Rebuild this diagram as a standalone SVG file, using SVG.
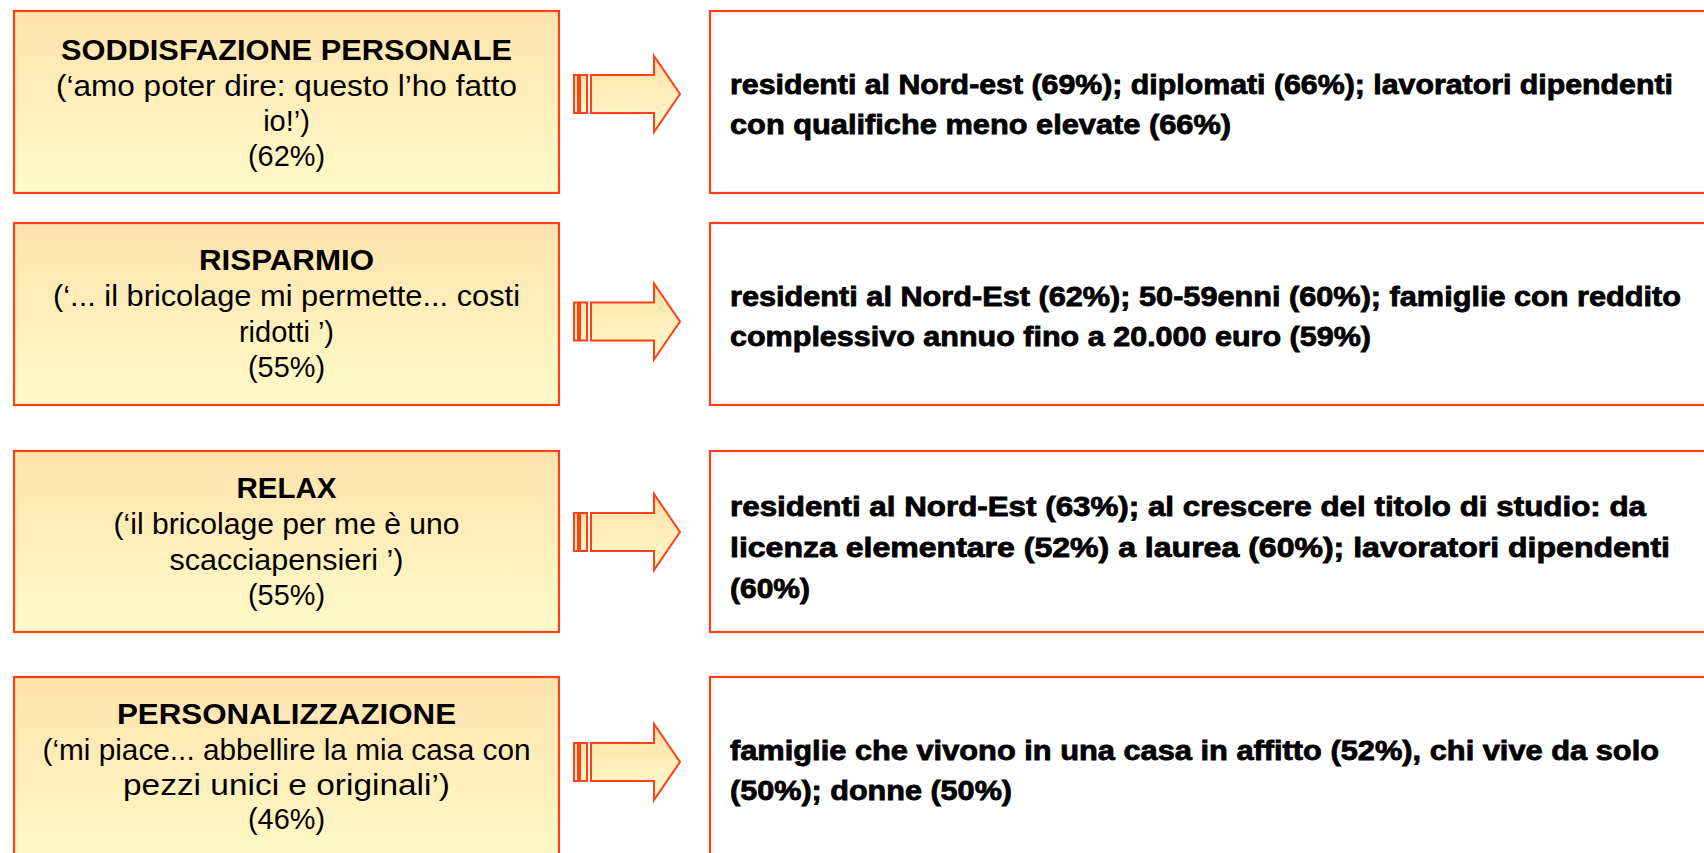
<svg xmlns="http://www.w3.org/2000/svg" width="1704" height="853" viewBox="0 0 1704 853">
<defs>
<linearGradient id="gbox" x1="0" y1="0" x2="0" y2="1">
<stop offset="0" stop-color="#FFE2AE"/>
<stop offset="1" stop-color="#FFFBC9"/>
</linearGradient>
<linearGradient id="garr" x1="0" y1="0" x2="0" y2="1">
<stop offset="0" stop-color="#FFE0AA"/>
<stop offset="1" stop-color="#FFFBCB"/>
</linearGradient>
<style>
.lb{fill:url(#gbox);stroke:#FF4015;stroke-width:2.2}
.rb{fill:#FFFFFF;stroke:#FF4015;stroke-width:2.2}
.ar{fill:url(#garr);stroke:#FF4015;stroke-width:2}
.t{font-family:"Liberation Sans",Arial,sans-serif;font-size:29px;fill:#000;text-anchor:middle}
.tb{font-weight:bold}
.r{font-family:"Liberation Sans",Arial,sans-serif;font-size:27px;font-weight:bold;fill:#000;stroke:#000;stroke-width:0.8}
</style>
</defs>
<rect width="1704" height="853" fill="#FFFFFF"/>

<g id="node-soddisfazione">
<rect class="lb" x="14" y="11" width="545" height="182"/>
<text class="t tb" x="286.5" y="60" textLength="451" lengthAdjust="spacingAndGlyphs">SODDISFAZIONE PERSONALE</text>
<text class="t" x="286.5" y="96" textLength="461" lengthAdjust="spacingAndGlyphs">(‘amo poter dire: questo l’ho fatto</text>
<text class="t" x="286.5" y="131">io!’)</text>
<text class="t" x="286.5" y="166" textLength="77" lengthAdjust="spacingAndGlyphs">(62%)</text>
</g>
<g id="node-soddisfazione-target">
<rect class="rb" x="710" y="11" width="1100" height="182"/>
<text class="r" x="730" y="94" textLength="943" lengthAdjust="spacingAndGlyphs">residenti al Nord-est (69%); diplomati (66%); lavoratori dipendenti</text>
<text class="r" x="730" y="134" textLength="501" lengthAdjust="spacingAndGlyphs">con qualifiche meno elevate (66%)</text>
</g>

<g id="node-risparmio">
<rect class="lb" x="14" y="223" width="545" height="182"/>
<text class="t tb" x="286.5" y="270" textLength="175" lengthAdjust="spacingAndGlyphs">RISPARMIO</text>
<text class="t" x="286.5" y="306" textLength="467" lengthAdjust="spacingAndGlyphs">(‘... il bricolage mi permette... costi</text>
<text class="t" x="286.5" y="342">ridotti ’)</text>
<text class="t" x="286.5" y="377" textLength="77" lengthAdjust="spacingAndGlyphs">(55%)</text>
</g>
<g id="node-risparmio-target">
<rect class="rb" x="710" y="223" width="1100" height="182"/>
<text class="r" x="730" y="306" textLength="951" lengthAdjust="spacingAndGlyphs">residenti al Nord-Est (62%); 50-59enni (60%); famiglie con reddito</text>
<text class="r" x="730" y="346" textLength="641" lengthAdjust="spacingAndGlyphs">complessivo annuo fino a 20.000 euro (59%)</text>
</g>

<g id="node-relax">
<rect class="lb" x="14" y="451" width="545" height="181"/>
<text class="t tb" x="286.5" y="498" textLength="100" lengthAdjust="spacingAndGlyphs">RELAX</text>
<text class="t" x="286.5" y="534" textLength="346" lengthAdjust="spacingAndGlyphs">(‘il bricolage per me è uno</text>
<text class="t" x="286.5" y="570" textLength="234" lengthAdjust="spacingAndGlyphs">scacciapensieri ’)</text>
<text class="t" x="286.5" y="605" textLength="77" lengthAdjust="spacingAndGlyphs">(55%)</text>
</g>
<g id="node-relax-target">
<rect class="rb" x="710" y="451" width="1100" height="181"/>
<text class="r" x="730" y="516" textLength="916" lengthAdjust="spacingAndGlyphs">residenti al Nord-Est (63%); al crescere del titolo di studio: da</text>
<text class="r" x="730" y="557" textLength="940" lengthAdjust="spacingAndGlyphs">licenza elementare (52%) a laurea (60%); lavoratori dipendenti</text>
<text class="r" x="730" y="598" textLength="80" lengthAdjust="spacingAndGlyphs">(60%)</text>
</g>

<g id="node-personalizzazione">
<rect class="lb" x="14" y="677" width="545" height="200"/>
<text class="t tb" x="286.5" y="724" textLength="339" lengthAdjust="spacingAndGlyphs">PERSONALIZZAZIONE</text>
<text class="t" x="286.5" y="760" textLength="488" lengthAdjust="spacingAndGlyphs">(‘mi piace... abbellire la mia casa con</text>
<text class="t" x="286.5" y="795" textLength="327" lengthAdjust="spacingAndGlyphs">pezzi unici e originali’)</text>
<text class="t" x="286.5" y="829" textLength="77" lengthAdjust="spacingAndGlyphs">(46%)</text>
</g>
<g id="node-personalizzazione-target">
<rect class="rb" x="710" y="677" width="1100" height="200"/>
<text class="r" x="730" y="760" textLength="929" lengthAdjust="spacingAndGlyphs">famiglie che vivono in una casa in affitto (52%), chi vive da solo</text>
<text class="r" x="730" y="800" textLength="282" lengthAdjust="spacingAndGlyphs">(50%); donne (50%)</text>
</g>

<g id="connectors">
<g transform="translate(0,94)">
<rect class="ar" x="574" y="-19" width="4" height="38"/>
<rect class="ar" x="580" y="-19" width="7" height="38"/>
<polygon class="ar" points="591,-19 654,-19 654,-38 680,0 654,38 654,19 591,19"/>
</g>
<g transform="translate(0,321.5)">
<rect class="ar" x="574" y="-19" width="4" height="38"/>
<rect class="ar" x="580" y="-19" width="7" height="38"/>
<polygon class="ar" points="591,-19 654,-19 654,-38 680,0 654,38 654,19 591,19"/>
</g>
<g transform="translate(0,532)">
<rect class="ar" x="574" y="-19" width="4" height="38"/>
<rect class="ar" x="580" y="-19" width="7" height="38"/>
<polygon class="ar" points="591,-19 654,-19 654,-38 680,0 654,38 654,19 591,19"/>
</g>
<g transform="translate(0,762)">
<rect class="ar" x="574" y="-19" width="4" height="38"/>
<rect class="ar" x="580" y="-19" width="7" height="38"/>
<polygon class="ar" points="591,-19 654,-19 654,-38 680,0 654,38 654,19 591,19"/>
</g>
</g>
</svg>
